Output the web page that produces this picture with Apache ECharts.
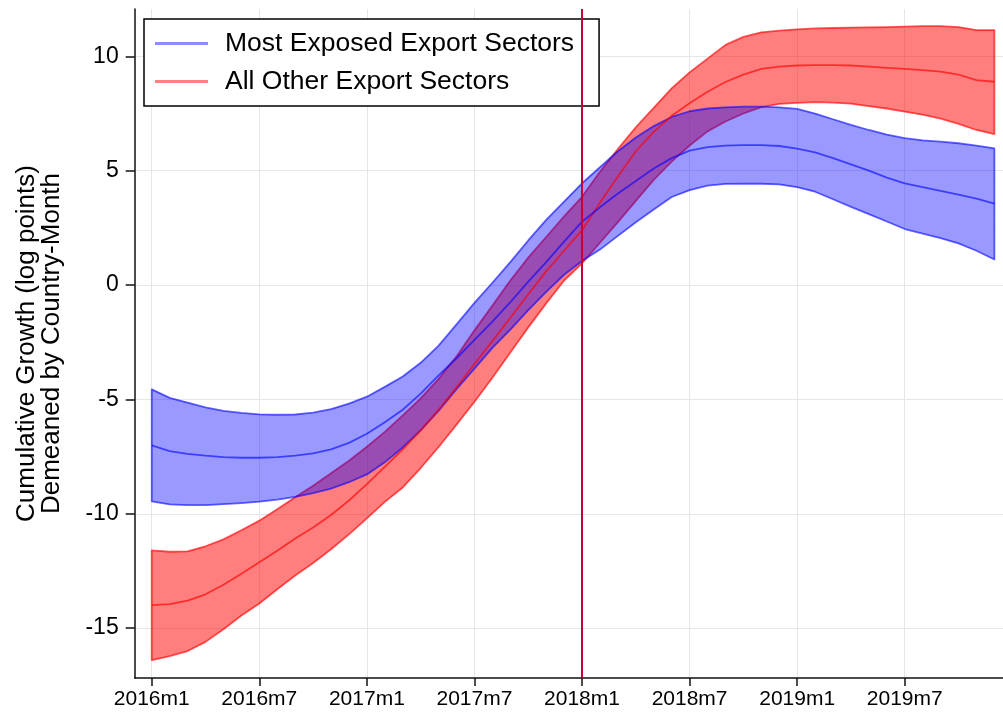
<!DOCTYPE html>
<html>
<head>
<meta charset="utf-8">
<script src="https://cdn.jsdelivr.net/npm/echarts@6/dist/echarts.min.js"></script>
<style>
html, body { margin: 0; padding: 0; background: #fff; }
#chart { width: 1003px; height: 717px; }
</style>
</head>
<body>
<div id="chart"></div>
<script>
// months since 2016m1
var months = [];
for (var m = 0; m < 48; m++) months.push(m);

var tickMonths = [0, 6, 12, 18, 24, 30, 36, 42];
var tickLabels = ['2016m1', '2016m7', '2017m1', '2017m7', '2018m1', '2018m7', '2019m1', '2019m7'];
var yTicks = [-15, -10, -5, 0, 5, 10];
var eventMonth = 24;

// Most Exposed Export Sectors
var exposedUpper = [
  -4.56, -4.93, -5.14, -5.35, -5.5, -5.59, -5.65, -5.67, -5.66, -5.58,
  -5.42, -5.18, -4.88, -4.45, -4.0, -3.4, -2.65, -1.72, -0.78, 0.1,
  1.0, 1.95, 2.85, 3.65, 4.45, 5.15, 5.85, 6.45, 6.95, 7.35,
  7.6, 7.72, 7.77, 7.8, 7.8, 7.77, 7.7, 7.5, 7.25, 7.0,
  6.78, 6.58, 6.42, 6.33, 6.27, 6.2, 6.1, 5.98
];
var exposedMean = [
  -7.01, -7.26, -7.38, -7.46, -7.52, -7.55, -7.55, -7.52, -7.46, -7.36,
  -7.18, -6.9, -6.5, -6.0, -5.45, -4.75, -3.95, -3.2, -2.4, -1.6,
  -0.75, 0.15, 1.0, 1.9, 2.77, 3.4, 4.0, 4.55, 5.1, 5.55,
  5.88, 6.03, 6.1, 6.12, 6.12, 6.08, 5.97, 5.8, 5.55, 5.28,
  5.0, 4.7, 4.45, 4.28, 4.12, 3.95, 3.78, 3.56
];
var exposedLower = [
  -9.46, -9.59, -9.62, -9.62, -9.58, -9.53, -9.47, -9.38, -9.26, -9.1,
  -8.9, -8.62, -8.28, -7.75, -7.1, -6.35, -5.5, -4.55, -3.65, -2.75,
  -1.95, -1.1, -0.3, 0.45, 1.05, 1.55, 2.15, 2.75, 3.3, 3.85,
  4.15, 4.35, 4.42, 4.43, 4.43, 4.4, 4.28, 4.08, 3.75, 3.42,
  3.1, 2.78, 2.45, 2.25, 2.05, 1.82, 1.5, 1.12
];

// All Other Export Sectors
var otherUpper = [
  -11.6, -11.66, -11.64, -11.42, -11.12, -10.72, -10.3, -9.8, -9.28, -8.77,
  -8.23, -7.68, -7.07, -6.42, -5.7, -4.95, -4.1, -3.12, -1.98, -0.9,
  0.2, 1.2, 2.1, 3.0, 3.86, 4.95, 5.95, 6.9, 7.75, 8.6,
  9.3, 9.9, 10.5, 10.85, 11.05, 11.12, 11.18, 11.22, 11.24, 11.26,
  11.27, 11.28, 11.3, 11.32, 11.32, 11.28, 11.15, 11.15
];
var otherMean = [
  -13.99, -13.95, -13.8, -13.52, -13.1, -12.62, -12.12, -11.62, -11.08, -10.6,
  -10.05, -9.42, -8.7, -7.95, -7.18, -6.35, -5.45, -4.47, -3.45, -2.45,
  -1.43, -0.4, 0.6, 1.5, 2.4, 3.6, 4.75, 5.85, 6.7, 7.4,
  7.95, 8.45, 8.88, 9.2, 9.45, 9.55, 9.6, 9.62, 9.62, 9.6,
  9.55, 9.5, 9.45, 9.4, 9.33, 9.2, 8.96, 8.89
];
var otherLower = [
  -16.4, -16.22, -16.0, -15.6, -15.05, -14.45, -13.92, -13.3, -12.7, -12.15,
  -11.55, -10.9, -10.2, -9.48, -8.85, -8.0, -7.08, -6.1, -5.1, -4.05,
  -2.95, -1.85, -0.8, 0.2, 0.95, 1.85, 2.75, 3.68, 4.6, 5.4,
  6.1, 6.72, 7.15, 7.5, 7.78, 7.92, 7.97, 8.0, 7.98, 7.93,
  7.82, 7.72, 7.58, 7.45, 7.28, 7.05, 6.78, 6.6
];

var blueFill = 'rgba(0, 0, 255, 0.4)';
var blueLine = 'rgba(0, 0, 255, 0.6)';
var redFill = 'rgba(255, 0, 0, 0.5)';
var redLine = 'rgba(255, 0, 0, 0.65)';
var font = 'Liberation Sans, Arial, Helvetica, sans-serif';

// confidence band drawn as one polygon through the axis scales
function band (name, upper, lower, fill, stroke) {
  return {
    name: name,
    type: 'custom',
    clip: true,
    data: months.map(function (m, i) { return [m, upper[i], lower[i]]; }),
    encode: { x: 0, y: [1, 2] },
    renderItem: function (params, api) {
      if (params.dataIndex !== 0) return null;
      var pts = [];
      for (var i = 0; i < upper.length; i++) pts.push(api.coord([months[i], upper[i]]));
      for (var j = lower.length - 1; j >= 0; j--) pts.push(api.coord([months[j], lower[j]]));
      return {
        type: 'polygon',
        shape: { points: pts },
        style: { fill: fill, stroke: stroke, lineWidth: 1.8, lineJoin: 'round' }
      };
    }
  };
}

function meanLine (name, values, color) {
  return {
    name: name,
    type: 'line',
    data: months.map(function (m, i) { return [m, values[i]]; }),
    symbol: 'none',
    silent: true,
    lineStyle: { color: color, width: 1.8 }
  };
}

var chart = echarts.init(document.getElementById('chart'));

var option = {
  animation: false,
  backgroundColor: '#fff',
  textStyle: { fontFamily: font },
  grid: { left: 134.7, right: 0, top: 9, bottom: 39 },
  legend: {
    orient: 'vertical',
    left: 144,
    top: 19,
    padding: [11, 25, 11, 11],
    itemGap: 11,
    itemWidth: 53,
    itemHeight: 3,
    backgroundColor: '#fff',
    borderColor: '#000',
    borderWidth: 1.5,
    borderRadius: 0,
    selectedMode: false,
    textStyle: { fontSize: 26.5, color: '#000', fontFamily: font, padding: [0, 0, 0, 12] },
    data: [
      { name: 'Most Exposed Export Sectors', icon: 'rect', itemStyle: { color: '#8c8cff' } },
      { name: 'All Other Export Sectors', icon: 'rect', itemStyle: { color: '#ff8282' } }
    ]
  },
  xAxis: {
    type: 'value',
    min: -0.95,
    max: 47.48,
    axisLine: { show: true, onZero: false, lineStyle: { color: '#111', width: 1.5 } },
    axisTick: { show: true, length: 8, customValues: tickMonths, lineStyle: { color: '#111', width: 1.5 } },
    axisLabel: {
      customValues: tickMonths,
      fontSize: 21,
      color: '#000',
      margin: 11,
      formatter: function (v) { return tickLabels[tickMonths.indexOf(v)]; }
    },
    splitLine: { show: true, lineStyle: { color: '#e6e6e6', width: 1 } }
  },
  yAxis: {
    type: 'value',
    min: -17.18,
    max: 12.07,
    name: 'Cumulative Growth (log points)\nDemeaned by Country-Month',
    nameLocation: 'middle',
    nameGap: 70,
    nameTextStyle: { fontSize: 26, lineHeight: 25, color: '#000', fontFamily: font },
    axisLine: { show: true, onZero: false, lineStyle: { color: '#111', width: 1.5 } },
    axisTick: { show: true, length: 9, customValues: yTicks, lineStyle: { color: '#111', width: 1.5 } },
    axisLabel: { customValues: yTicks, fontSize: 23, color: '#000', margin: 16 },
    splitLine: { show: true, lineStyle: { color: '#e6e6e6', width: 1 } }
  },
  series: [
    {
      name: 'event',
      type: 'line',
      data: [],
      markLine: {
        silent: true,
        symbol: 'none',
        label: { show: false },
        lineStyle: { color: '#c8003a', width: 2, type: 'solid' },
        data: [{ xAxis: eventMonth }]
      }
    },
    band('All Other Export Sectors', otherUpper, otherLower, redFill, redLine),
    meanLine('otherMean', otherMean, redLine),
    band('Most Exposed Export Sectors', exposedUpper, exposedLower, blueFill, blueLine),
    meanLine('exposedMean', exposedMean, blueLine)
  ]
};

chart.setOption(option);
</script>
</body>
</html>
